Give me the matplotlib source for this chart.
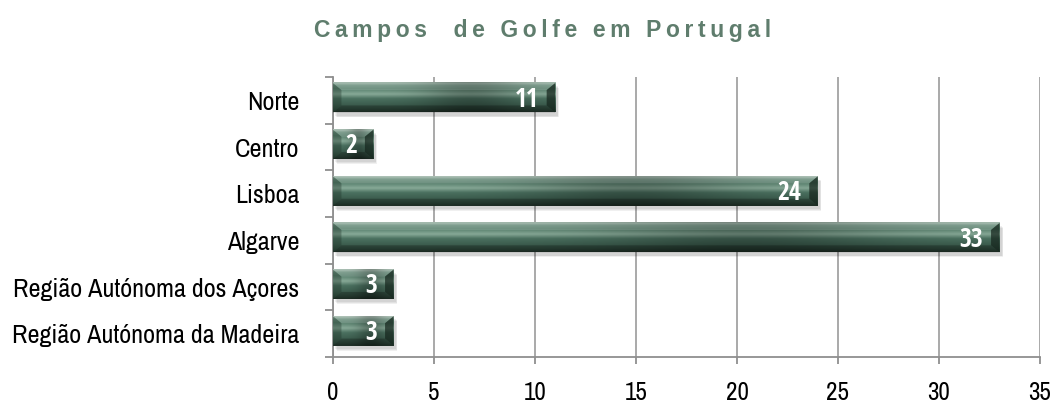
import numpy as np
import matplotlib.pyplot as plt
from matplotlib.patches import Rectangle, Polygon
from matplotlib.colors import to_rgb

categorias = ['Norte', 'Centro', 'Lisboa', 'Algarve',
              'Região Autónoma dos Açores', 'Região Autónoma da Madeira']
campos = [11, 2, 24, 33, 3, 3]
x_ticks = [0, 5, 10, 15, 20, 25, 30, 35]
titulo = 'Campos  de Golfe em Portugal'

NARROW = ['Archivo Narrow', 'Liberation Sans', 'DejaVu Sans']
NARROW_BOLD = ['Open Sans Condensed', 'Liberation Sans', 'DejaVu Sans']
CINZA = '#8f8f8f'

# perfil vertical da barra (topo -> base)
perfil_pos = [0.00, 0.10, 0.22, 0.40, 0.55, 0.75, 0.90, 1.00]
perfil_cor = ['#aabfb3', '#6a8f7d', '#58806d', '#88aa98', '#4b7160',
              '#3d5e4f', '#2f4a3d', '#24372d']


def textura_barra(n_x=200, n_y=60):
    t = np.linspace(0, 1, n_y)
    cores = np.array([to_rgb(c) for c in perfil_cor])
    col = np.stack([np.interp(t, perfil_pos, cores[:, k]) for k in range(3)], axis=1)
    s = np.linspace(0, 1, n_x)
    sombra = 1 - 0.28 * np.exp(-((s - 0.62) / 0.22) ** 2)
    return np.clip(col[:, None, :] * sombra[None, :, None], 0, 1)


fig = plt.figure(figsize=(10.59, 4.12), dpi=100)
ax = fig.add_axes([0.3144, 0.1335, 0.6676, 0.679])

n = len(categorias)
ys = np.arange(n)
h = 0.63
bx = 0.42   # bisel horizontal
by = 0.15   # bisel vertical
tex = textura_barra()

for y, v in zip(ys, campos):
    yc = y - 0.06
    top, bot = yc - h / 2, yc + h / 2
    # sombra suave
    for k in range(3):
        d = 0.06 * k
        ax.add_patch(Rectangle((0.12 + d * 0.5, top + 0.07 + d * 0.3), v, h,
                               color='#000000', alpha=0.06, lw=0, zorder=2))
    ax.imshow(tex, aspect='auto', origin='upper', extent=[0, v, bot, top],
              zorder=3, interpolation='bilinear')
    # biseis
    ax.add_patch(Polygon([(0, top), (v, top), (v - bx, top + by), (bx, top + by)],
                         closed=True, color='#ffffff', alpha=0.15, lw=0, zorder=4))
    ax.add_patch(Polygon([(0, bot), (v, bot), (v - bx, bot - by), (bx, bot - by)],
                         closed=True, color='#000000', alpha=0.22, lw=0, zorder=4))
    ax.add_patch(Polygon([(0, top), (bx, top + by), (bx, bot - by), (0, bot)],
                         closed=True, color='#1d3026', alpha=0.35, lw=0, zorder=4))
    ax.add_patch(Polygon([(v, top), (v - bx, top + by), (v - bx, bot - by), (v, bot)],
                         closed=True, color='#14231b', alpha=0.7, lw=0, zorder=4))
    ax.text(v - 0.8, yc + 0.03, str(v), ha='right', va='center',
            color='white', fontsize=18.5, fontweight='bold', family=NARROW_BOLD, zorder=5)

ax.set_xlim(0, 35)
ax.set_ylim(n - 0.5, -0.5)
ax.set_xticks(x_ticks)
ax.set_xticklabels([str(t) for t in x_ticks], family=NARROW, fontsize=18)
ax.set_yticks(np.arange(-0.5, n, 1))
ax.set_yticklabels([])
ax.set_yticks(ys, minor=True)
ax.set_yticklabels(categorias, minor=True, family=NARROW, fontsize=18.8)
ax.tick_params(axis='y', which='minor', length=0, pad=24)
ax.tick_params(axis='y', which='major', length=6, color=CINZA, width=1.3)
ax.tick_params(axis='x', length=5, color=CINZA, width=1.3, pad=12)

ax.grid(axis='x', color='#a3a3a3', lw=1.3, zorder=1)
ax.set_axisbelow(True)
for s in ['top', 'right']:
    ax.spines[s].set_visible(False)
for s in ['left', 'bottom']:
    ax.spines[s].set_color(CINZA)
    ax.spines[s].set_linewidth(1.3)

# título com espaçamento entre letras
titulo_esp = '\u2009'.join(titulo)
fig.text(0.512, 0.925, titulo_esp, ha='center', va='center', fontsize=16.5,
         fontweight='bold', color='#5f7d6d', family=['Liberation Sans', 'DejaVu Sans'])

fig.savefig('out.png', dpi=100)
